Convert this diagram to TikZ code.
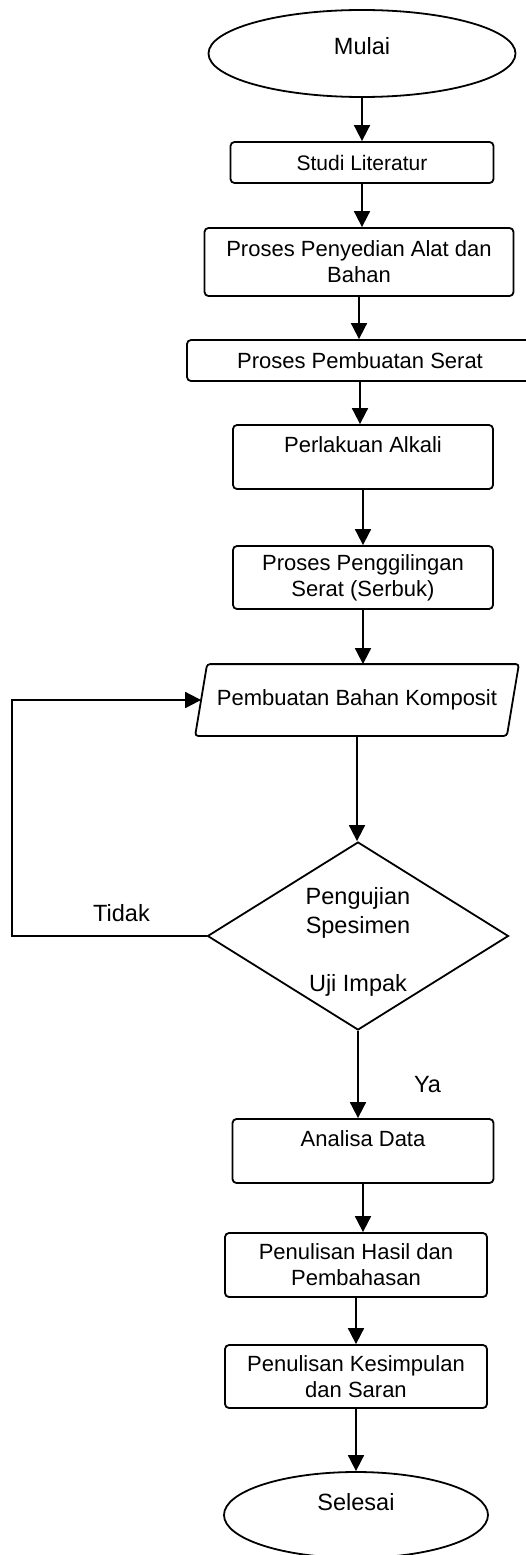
\documentclass[tikz,border=0pt]{standalone}
\usepackage{fontspec}
\setmainfont{Liberation Sans}
\usetikzlibrary{shapes.geometric,arrows.meta}

\begin{document}
\begin{tikzpicture}[x=1pt,y=-1pt,
        font=\fontsize{22}{26}\selectfont, line width=1.8pt,
        >={Triangle[length=16pt,width=16pt]},
        kotak/.style={draw, rectangle, rounded corners=4pt, inner sep=0pt, align=center},
        kotakatas/.style={kotak, text height=27pt, text depth=37pt},
        oval/.style={draw, ellipse, inner sep=0pt},
        besar/.style={font=\fontsize{23.5}{29}\selectfont}]
            \useasboundingbox (0,0) rectangle (526,1555);

            \node[oval, besar, minimum width=307pt, minimum height=87pt, text height=16pt, text depth=13pt] (mulai) at (362,53.5) {Mulai};
            \node[kotak, minimum width=263pt, minimum height=41pt, font=\fontsize{21}{25}\selectfont] (studi) at (362,162.5) {Studi Literatur};
            \node[kotak, minimum width=309pt, minimum height=68pt] (alat) at (359,262) {Proses Penyedian Alat dan\\Bahan};
            \node[kotak, minimum width=346pt, minimum height=41pt] (serat) at (360,360.5) {Proses Pembuatan Serat};
            \node[kotakatas, minimum width=260pt] (alkali) at (363,457) {Perlakuan Alkali};
            \node[kotak, minimum width=260pt, minimum height=63pt] (giling) at (363,577.5) {Proses Penggilingan\\Serat (Serbuk)};
            \node[minimum width=310pt, minimum height=70pt, inner sep=0pt] (komposit) at (357,700) {Pembuatan Bahan Komposit};
            \draw[rounded corners=3pt] ([xshift=-6pt]komposit.south west) -- ([xshift=6pt]komposit.north west)
                -- ([xshift=6pt]komposit.north east) -- ([xshift=-6pt]komposit.south east) -- cycle;
            \node[draw, diamond, aspect=1.6, inner sep=0pt, align=center, minimum width=301pt, minimum height=188pt,
                  besar] (uji) at (358,936) {\rule{0pt}{28pt}Pengujian\\Spesimen\\[29pt]Uji Impak};
            \node[kotakatas, minimum width=261pt] (analisa) at (363,1151) {Analisa Data};
            \node[kotak, minimum width=262pt, minimum height=64pt] (hasil) at (356,1265) {Penulisan Hasil dan\\Pembahasan};
            \node[kotak, minimum width=262pt, minimum height=63pt] (simpulan) at (356,1376.5) {Penulisan Kesimpulan\\dan Saran};
            \node[oval, besar, minimum width=264pt, minimum height=86pt, text height=16pt, text depth=26pt] (selesai) at (356,1515) {Selesai};

            \node[besar] (tidak) at (121.5,913) {Tidak};
            \node[besar] (ya) at (427.5,1085) {Ya};
            \coordinate (balik) at (12,936);

            \draw[->] (mulai) -- (mulai |- studi.north);
            \draw[->] (studi) -- (studi |- alat.north);
            \draw[->] (alat) -- (alat |- serat.north);
            \draw[->] (serat) -- (serat |- alkali.north);
            \draw[->] (alkali) -- (alkali |- giling.north);
            \draw[->] (giling) -- (giling |- komposit.north);
            \draw[->] (komposit) -- (komposit |- uji.north);
            \draw[->] (uji) -- (uji |- analisa.north);
            \draw[->] (analisa) -- (analisa |- hasil.north);
            \draw[->] (hasil) -- (hasil |- simpulan.north);
            \draw[->] (simpulan) -- (simpulan |- selesai.north);
            \draw[->] (uji.west) -- (balik) |- (komposit);
        \end{tikzpicture}
\end{document}
